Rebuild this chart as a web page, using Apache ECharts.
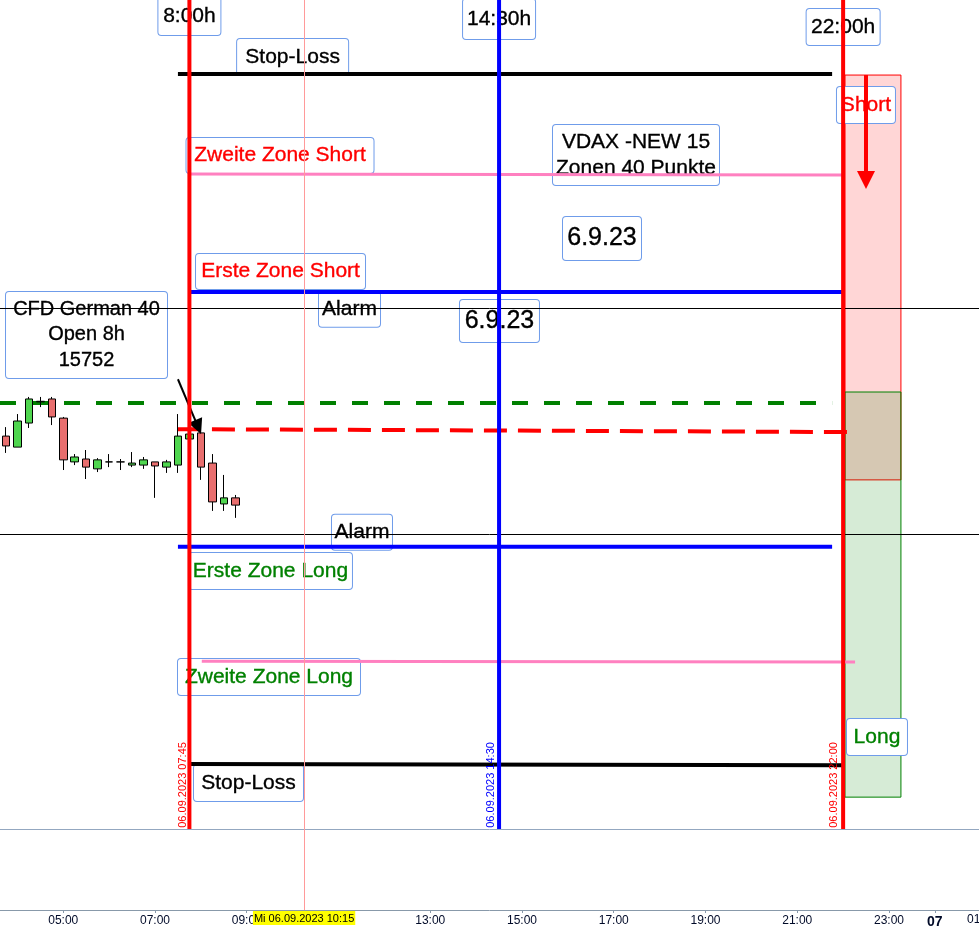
<!DOCTYPE html>
<html><head><meta charset="utf-8">
<script src="https://cdn.jsdelivr.net/npm/echarts@6/dist/echarts.min.js"></script>
<style>html,body{margin:0;padding:0;background:#fff}#c{width:979px;height:927px}</style>
</head><body><div id="c"></div>
<script>
// ---- DATA (time = hour of 06.09.2023, 24 = 07.09 00:00) ----
const candleTimes = [3.75,4,4.25,4.5,4.75,5,5.25,5.5,5.75,6,6.25,6.5,6.75,7,7.25,7.5,7.75,8,8.25,8.5,8.75];
const candleOpen  = [15749.9,15746.1,15754.4,15761.7,15762.7,15756.1,15741.0,15742.0,15738.6,15741.0,15741.0,15739.9,15739.9,15741.0,15739.2,15739.9,15748.9,15751.0,15740.6,15726.5,15728.6];
const candleClose = [15746.5,15755.1,15762.7,15761.9,15756.5,15741.7,15742.7,15739.2,15741.7,15741.0,15741.0,15740.6,15741.7,15739.6,15741.0,15749.9,15750.6,15739.2,15727.2,15728.6,15726.1];
const candleLow   = [15744.1,15746.1,15752.7,15759.9,15753.7,15738.2,15739.9,15735.1,15737.5,15739.2,15738.2,15739.2,15738.6,15728.6,15737.2,15737.2,15748.9,15734.8,15724.1,15724.1,15721.7];
const candleHigh  = [15753.0,15757.5,15763.4,15763.4,15763.4,15756.5,15743.7,15745.1,15742.3,15743.7,15742.0,15744.4,15742.7,15741.0,15741.7,15757.5,15750.6,15751.0,15743.7,15736.5,15729.6];

const levelNames     = ['Stop-Loss','Zweite Zone Short','Erste Zone Short','Vortag','Open 8h','Erste Zone Long','Zweite Zone Long','Stop-Loss'];
const levelFrom      = [7.50, 7.75, 7.75, 3.62125, 7.50, 7.50, 8.02, 7.76];
const levelTo        = [21.76, 22.0, 22.0, 21.76, 22.11, 21.76, 22.26, 22.0];
const levelPriceFrom = [15874.8, 15840.3, 15799.6, 15761.3, 15752.3, 15711.7, 15672.3, 15636.8];
const levelPriceTo   = [15874.8, 15839.9, 15799.6, 15761.3, 15751.3, 15711.7, 15672.0, 15636.4];

const alarmLevels   = [15794.1, 15716.1];
const paneBottom    = 15614.4;
const sessionTimes  = [7.75, 14.5, 22.0];
const sessionDates  = ['06.09.2023 07:45', '06.09.2023 14:30', '06.09.2023 22:00'];
const boxTimes      = [22.04, 23.26];
const shortBox      = [15874.4, 15734.8];
const longBox       = [15765.1, 15625.4];
const cursorTime    = 10.25;
const cursorLabel   = 'Mi 06.09.2023 10:15';
const tickHours     = [5, 7, 9, 11, 13, 15, 17, 19, 21, 23, 24];

const noteTexts = ['8:00h','14:30h','22:00h','Stop-Loss','Zweite Zone Short','VDAX -NEW 15\nZonen 40 Punkte','6.9.23',
  'Erste Zone Short','Alarm','6.9.23','CFD German 40\nOpen 8h\n15752','Alarm','Erste Zone Long','Zweite Zone Long','Stop-Loss','Short','Long'];
const noteTimes  = [7.75, 14.5, 22.0, 10.0, 9.725, 17.485, 16.744, 9.736, 11.24, 14.509, 5.507, 11.512, 9.517, 9.485, 9.038, 22.498, 22.738];
const notePrices = [15894.8, 15893.7, 15891.0, 15880.6, 15846.7, 15846.8, 15818.0, 15806.7, 15793.6, 15789.6, 15784.8, 15716.7, 15703.4, 15666.8, 15630.3, 15864.1, 15646.1];

// ---- LAYOUT / STYLE ----
const X_MIN = 3.62125, X_MAX = 24.9619, Y_MIN = 15586.48, Y_MAX = 15900.28;
const RED = '#ff0000', GREEN = '#008000', BLUE = '#0000ff', PINK = '#ff80c0', BLACK = '#000000';
const FONT = "'Liberation Sans', Arial, sans-serif";
const NARROW = "'Liberation Sans Narrow', 'Arial Narrow', 'Liberation Sans', sans-serif";
const levelStyles = [
  {color: BLACK, width: 4},
  {color: PINK, width: 3},
  {color: BLUE, width: 4},
  {color: GREEN, width: 4, type: [16, 16]},
  {color: RED, width: 4, type: [23, 11]},
  {color: BLUE, width: 4},
  {color: PINK, width: 3},
  {color: BLACK, width: 4}
];
// [textColor, fontSize, lineHeight, boxW, boxH]
const noteStyles = [
  [BLACK,21,24,64,40],[BLACK,21,24,74,42],[BLACK,21,24,75,38],[BLACK,21,24,113,38],[RED,21,24,189,37],
  [BLACK,21,26,168,62],[BLACK,25,28,80,45],[RED,21,24,171,37],[BLACK,21,24,63,37],[BLACK,25,28,81,44],
  [BLACK,20,25.5,163,88],[BLACK,21,24,62,37],[GREEN,21,24,165,38],[GREEN,21,24,184,38],[BLACK,21,24,111,38],
  [RED,21,24,60,38],[GREEN,21,24,62,38]
];
const sessionColors = [RED, BLUE, RED];
const sessionDateOffsets = [-6, -8, -9];
const dateLabelPrice = 15629.6;

const chart = echarts.init(document.getElementById('c'));

const series = [];

// session boxes
series.push({
  type: 'line', data: [], z: 0, silent: true,
  markArea: {
    silent: true,
    data: [
      [{coord: [boxTimes[0], shortBox[0]], itemStyle: {color: 'rgba(255,0,0,0.16)', borderColor: RED, borderWidth: 1, opacity: 1}},
       {coord: [boxTimes[1], shortBox[1]]}],
      [{coord: [boxTimes[0], longBox[0]], itemStyle: {color: 'rgba(0,128,0,0.16)', borderColor: GREEN, borderWidth: 1, opacity: 1}},
       {coord: [boxTimes[1], longBox[1]]}]
    ]
  }
});

// note boxes
series.push({
  type: 'scatter', z: 1, silent: true, symbolSize: 1,
  itemStyle: {color: 'rgba(0,0,0,0)', opacity: 1},
  data: noteTexts.map((t, i) => {
    const [col, fs, lh, bw, bh] = noteStyles[i];
    const n = t.split('\n').length;
    const pv = (bh - 2 - n * lh) / 2;
    return {
      name: t, value: [noteTimes[i], notePrices[i]],
      label: {
        show: true, position: 'inside', formatter: t, color: col, fontSize: fs, lineHeight: lh,
        fontFamily: FONT, align: 'center', verticalAlign: 'middle', opacity: 1,
        textBorderColor: col, textBorderWidth: 0.35,
        width: bw - 2, padding: [pv, 0, pv, 0],
        backgroundColor: '#ffffff', borderColor: '#6f9cea', borderWidth: 1, borderRadius: 3
      }
    };
  })
});

// level lines
levelNames.forEach((nm, i) => {
  series.push({
    type: 'line', name: nm, z: 3, silent: true, symbol: 'none',
    data: [[levelFrom[i], levelPriceFrom[i]], [levelTo[i], levelPriceTo[i]]],
    lineStyle: Object.assign({cap: 'butt'}, levelStyles[i])
  });
});

// candles
series.push({
  type: 'candlestick', z: 4, silent: true,
  data: candleTimes.map((t, i) => [t, candleOpen[i], candleClose[i], candleLow[i], candleHigh[i]]),
  encode: {x: 0, y: [1, 2, 3, 4]},
  barWidth: 8,
  itemStyle: {color: '#4fd64f', color0: '#e86e6e', borderColor: '#000', borderColor0: '#000', borderColorDoji: '#000', borderWidth: 1}
});

// session vertical lines
sessionTimes.forEach((t, i) => {
  series.push({
    type: 'line', z: 5, silent: true, symbol: 'none',
    data: [[t, Y_MAX], [t, paneBottom]],
    lineStyle: {color: sessionColors[i], width: 4}
  });
});

// reference lines, cursor, arrows
series.push({
  type: 'line', data: [], z: 6, silent: true, clip: false,
  markLine: {
    silent: true, symbol: ['none', 'none'], animation: false,
    label: {show: false},
    data: [
      {yAxis: alarmLevels[0], lineStyle: {color: BLACK, width: 1, type: 'solid'}},
      {yAxis: alarmLevels[1], lineStyle: {color: BLACK, width: 1, type: 'solid'}},
      {yAxis: paneBottom, lineStyle: {color: '#93a7c0', width: 1, type: 'solid'}},
      {xAxis: cursorTime, lineStyle: {color: '#ff9a9a', width: 1, type: 'solid'},
       label: {show: true, position: 'start', distance: 1, formatter: cursorLabel, backgroundColor: '#ffff00',
               color: '#000', fontSize: 11, fontFamily: NARROW, padding: [2, 1, 1, 1]}},
      [{coord: [7.50, 15769.5], symbol: 'none', lineStyle: {color: BLACK, width: 2, type: 'solid'}},
       {coord: [7.94, 15753.0], symbol: 'triangle', symbolSize: 15}],
      [{coord: [22.498, 15874.4], symbol: 'none', lineStyle: {color: RED, width: 4, type: 'solid'}},
       {coord: [22.498, 15838.2], symbol: 'triangle', symbolSize: 18}]
    ]
  }
});

// vertical date labels
series.push({
  type: 'scatter', z: 7, silent: true, symbolSize: 1, itemStyle: {color: 'rgba(0,0,0,0)', opacity: 1},
  data: sessionTimes.map((t, i) => ({
    value: [t, dateLabelPrice],
    label: {show: true, position: 'inside', formatter: sessionDates[i], rotate: 90, color: sessionColors[i], opacity: 1,
            fontSize: 11, fontFamily: FONT, align: 'center', verticalAlign: 'middle', offset: [0, sessionDateOffsets[i]]}
  }))
});

chart.setOption({
  animation: false,
  backgroundColor: '#ffffff',
  grid: {left: 0, right: 0, top: 0, bottom: 17, containLabel: false, outerBoundsMode: 'none'},
  xAxis: {
    type: 'value', min: X_MIN, max: X_MAX,
    splitLine: {show: false},
    axisLine: {show: true, lineStyle: {color: '#8899aa', width: 1}},
    axisTick: {show: true, customValues: tickHours, length: 3, lineStyle: {color: '#8899aa'}},
    axisLabel: {
      customValues: tickHours, margin: 5, color: '#000a28', fontSize: 12, fontFamily: NARROW,
      formatter: v => v === 24 ? '{b|07}' : ((v < 10 ? '0' : '') + v + ':00'),
      rich: {b: {fontWeight: 'bold', fontSize: 14, color: '#000a28', fontFamily: NARROW}}
    }
  },
  yAxis: {type: 'value', min: Y_MIN, max: Y_MAX, show: false, splitLine: {show: false}},
  graphic: [{type: 'text', left: 967, top: 914, style: {text: '01', fill: '#000a28', font: "12px 'Liberation Sans Narrow', sans-serif"}}],
  series: series
});
</script>
</body></html>
